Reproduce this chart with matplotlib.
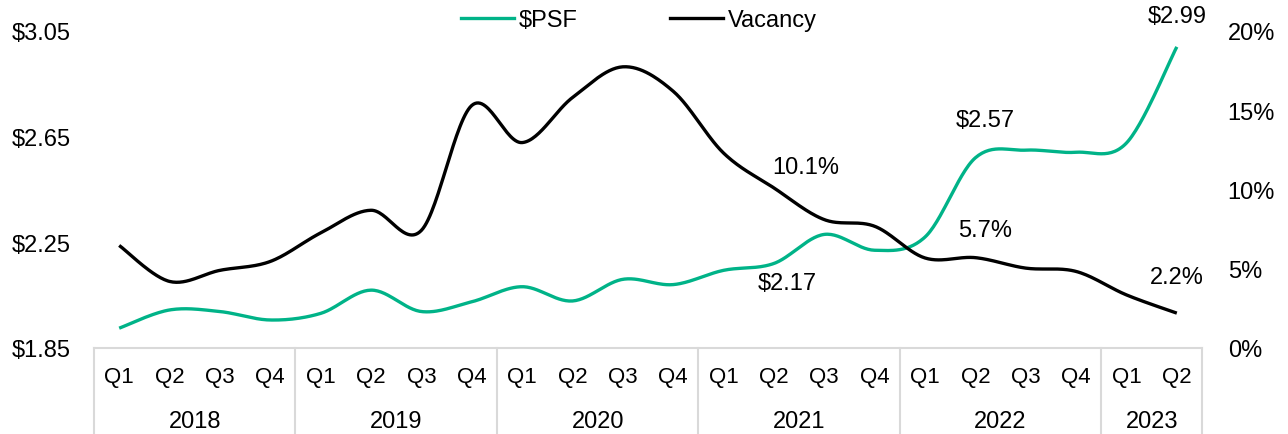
import numpy as np
import matplotlib
matplotlib.use("Agg")
import matplotlib.pyplot as plt
from matplotlib.lines import Line2D

plt.rcParams['font.family'] = ['Liberation Sans', 'DejaVu Sans']

quarters = ['Q1', 'Q2', 'Q3', 'Q4'] * 5 + ['Q1', 'Q2']
years = ['2018', '2019', '2020', '2021', '2022', '2023']
year_counts = [4, 4, 4, 4, 4, 2]

psf = [1.925, 1.994, 1.988, 1.956, 1.981, 2.069, 1.988, 2.025, 2.082, 2.028, 2.110,
       2.090, 2.144, 2.17, 2.280, 2.220, 2.270, 2.57, 2.599, 2.591, 2.626, 2.99]
vacancy = [6.47, 4.20, 4.90, 5.46, 7.26, 8.69, 7.42, 15.30, 12.96, 15.80, 17.74,
           16.20, 12.30, 10.1, 8.10, 7.68, 5.68, 5.7, 5.04, 4.83, 3.35, 2.2]

TEAL = '#00B388'
GRID = '#D9D9D9'


def smooth(y, n=30):
    """Excel-like smoothed line (Catmull-Rom Bezier)."""
    y = np.asarray(y, float)
    x = np.arange(len(y), dtype=float)
    xs, ys = [], []
    m = len(y)
    for i in range(m - 1):
        p0 = (x[i - 1], y[i - 1]) if i > 0 else (x[i], y[i])
        p1 = (x[i], y[i])
        p2 = (x[i + 1], y[i + 1])
        p3 = (x[i + 2], y[i + 2]) if i + 2 < m else (x[i + 1], y[i + 1])
        c1 = (p1[0] + (p2[0] - p0[0]) / 6, p1[1] + (p2[1] - p0[1]) / 6)
        c2 = (p2[0] - (p3[0] - p1[0]) / 6, p2[1] - (p3[1] - p1[1]) / 6)
        t = np.linspace(0, 1, n, endpoint=(i == m - 2))
        bx = (1-t)**3*p1[0] + 3*(1-t)**2*t*c1[0] + 3*(1-t)*t**2*c2[0] + t**3*p2[0]
        by = (1-t)**3*p1[1] + 3*(1-t)**2*t*c1[1] + 3*(1-t)*t**2*c2[1] + t**3*p2[1]
        xs.append(bx)
        ys.append(by)
    return np.concatenate(xs), np.concatenate(ys)


fig = plt.figure(figsize=(12.88, 4.35), dpi=100)
ax = fig.add_axes([94/1288, 1-349/435, (1202-94)/1288, (349-32)/435])
ax2 = ax.twinx()

n = len(psf)
ax.set_xlim(-0.5, n - 0.5)
ax.set_ylim(1.85, 3.05)
ax2.set_ylim(0, 20)

sx, sy = smooth(psf)
ax.plot(sx, sy, color=TEAL, lw=2.4, solid_capstyle='butt', zorder=3)
vx, vy = smooth(vacancy)
ax2.plot(vx, vy, color='black', lw=2.4, solid_capstyle='butt', zorder=3)

FS = 17
FSQ = 16
FSY = 17
ax.set_yticks([1.85, 2.25, 2.65, 3.05])
ax.set_yticklabels([f'${v:.2f}' for v in [1.85, 2.25, 2.65, 3.05]], fontsize=FS)
ax2.set_yticks([0, 5, 10, 15, 20])
ax2.set_yticklabels([f'{v}%' for v in [0, 5, 10, 15, 20]], fontsize=FS)
ax.tick_params(axis='y', length=0, pad=17)
ax2.tick_params(axis='y', length=0, pad=18.5)
ax.set_xticks([])

for a in (ax, ax2):
    for s in a.spines.values():
        s.set_visible(False)
ax.spines['bottom'].set_visible(True)
ax.spines['bottom'].set_color(GRID)
ax.spines['bottom'].set_linewidth(1.5)

# category axis: quarter labels, year labels, separators
trans = ax.get_xaxis_transform()
for i, q in enumerate(quarters):
    ax.text(i, -29/317, q, transform=trans, ha='center', va='center', fontsize=FSQ)
start = 0
bounds = [-0.5]
for yr, c in zip(years, year_counts):
    mid = start + (c - 1) / 2
    ax.text(mid, -73/317, yr, transform=trans, ha='center', va='center', fontsize=FSY)
    start += c
    bounds.append(start - 0.5)
for b in bounds:
    ax.add_line(Line2D([b, b], [0, -90/317], transform=trans, color=GRID, lw=1.5,
                       clip_on=False))

# data labels
def lab(axis, i, val, text, dx, dy):
    axis.annotate(text, (i, val), xytext=(dx, dy), textcoords='offset pixels',
                  ha='center', va='center', fontsize=FS, zorder=5)

lab(ax, 13, psf[13], '$2.17', 13, -20)
lab(ax, 17, psf[17], '$2.57', 10, 38)
lab(ax, 21, psf[21], '$2.99', 0, 31)
lab(ax2, 13, vacancy[13], '10.1%', 32, 21)
lab(ax2, 17, vacancy[17], '5.7%', 10, 28)
lab(ax2, 21, vacancy[21], '2.2%', 0, 36)

# legend
handles = [Line2D([], [], color=TEAL, lw=2.4), Line2D([], [], color='black', lw=2.4)]
fig.legend(handles, ['$PSF', 'Vacancy'], loc='center', bbox_to_anchor=(639/1288, 1-21/435),
           ncol=2, frameon=False, fontsize=FS, handlelength=2.25, handletextpad=0.2,
           columnspacing=3.9, borderpad=0, borderaxespad=0)

fig.savefig('out.png', dpi=100)
